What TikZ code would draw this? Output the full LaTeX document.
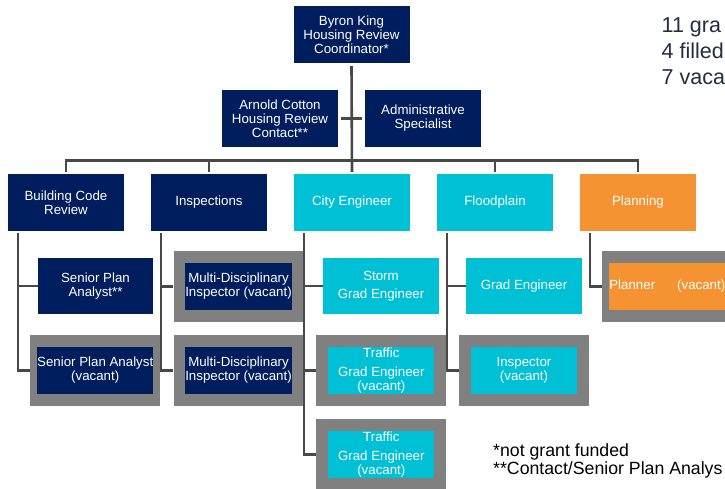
\documentclass[tikz,border=0pt]{standalone}
\usepackage{fontspec}
\setmainfont{Liberation Sans}
\definecolor{navyc}{RGB}{0,30,94}
\definecolor{cyanc}{RGB}{0,192,214}
\definecolor{orangec}{RGB}{245,146,50}
\definecolor{greyc}{RGB}{128,128,128}
\definecolor{linec}{RGB}{72,72,72}
\definecolor{statc}{RGB}{35,45,65}
\begin{document}
\begin{tikzpicture}[x=1pt,y=-1pt,
  box/.style={inner sep=0pt, minimum width=116pt, minimum height=57pt, text=white, align=center, font=\fontsize{13.3}{14}\selectfont},
  navybox/.style={box, fill=navyc},
  cyanbox/.style={box, fill=cyanc},
  orangebox/.style={box, fill=orangec},
  outerbox/.style={fill=greyc, minimum width=130pt, minimum height=71pt, inner sep=0pt},
  innerbox/.style={minimum width=106pt, minimum height=47pt},
  conn/.style={draw=linec, line width=2.6pt},
  note/.style={anchor=base west, inner sep=0pt, text=black, font=\fontsize{17.7}{18}\selectfont}
]
\useasboundingbox (0,0) rectangle (725,489);
\clip (0,0) rectangle (725,489);

% top levels
\node[navybox] (top) at (351.5,34.5) {Byron King\\Housing Review\\Coordinator*};
\node[navybox] (arnold) at (280,118.5) {Arnold Cotton\\Housing Review\\Contact**};
\node[navybox] (admin) at (423,118.5) {Administrative\\Specialist};

% departments
\node[navybox] (bcr) at (66,202.5) {Building Code\\Review};
\node[navybox] (insp) at (209,202.5) {Inspections};
\node[cyanbox] (city) at (352,202.5) {City Engineer};
\node[cyanbox] (flood) at (495,202.5) {Floodplain};
\node[orangebox] (plan) at (638,202.5) {Planning};

% third row
\node[navybox, minimum width=115pt, minimum height=56pt] (spa1) at (95.5,286) {Senior Plan\\Analyst**};
\node[outerbox] (md1) at (238.5,286.5) {};
\node[navybox, innerbox] (md1in) at (md1) {Multi-Disciplinary\\Inspector (vacant)};
\node[cyanbox, minimum height=56pt] (storm) at (381,286) {Storm\\[4.5pt]Grad Engineer};
\node[cyanbox, minimum height=56pt] (grad) at (524,286) {Grad Engineer};
\node[outerbox] (planner) at (667.3,286.5) {};
\node[orangebox, innerbox] (plannerin) at (planner) {Planner\hspace{22pt}(vacant)};

% fourth row
\node[outerbox] (spa2) at (95.2,370.5) {};
\node[navybox, innerbox] (spa2in) at (spa2) {Senior Plan Analyst\\(vacant)};
\node[outerbox] (md2) at (238.5,370.5) {};
\node[navybox, innerbox] (md2in) at (md2) {Multi-Disciplinary\\Inspector (vacant)};
\node[outerbox] (traf1) at (381.3,370.5) {};
\node[cyanbox, innerbox] (traf1in) at (traf1) {Traffic\\[5.5pt]Grad Engineer\\(vacant)};
\node[outerbox] (inspv) at (524,370.5) {};
\node[cyanbox, innerbox] (inspvin) at (inspv) {Inspector\\(vacant)};

% fifth row
\node[outerbox] (traf2) at (381.3,454.5) {};
\node[cyanbox, innerbox] (traf2in) at (traf2) {Traffic\\[5.5pt]Grad Engineer\\(vacant)};

% connectors
\coordinate (bar) at (352,160.7);
\draw[conn] ([yshift=-3pt]top.south) -- ([yshift=2pt]city.north);
\draw[conn, shorten <=3pt, shorten >=3pt] (arnold.east) -- (admin.west);
\draw[conn] ([yshift=2pt]bcr.north) |- (bar);
\draw[conn] ([yshift=2pt]insp.north) |- (bar);
\draw[conn] ([yshift=2pt]flood.north) |- (bar);
\draw[conn] ([yshift=2pt]plan.north) |- (bar);

\draw[conn] ([xshift=10.3pt,yshift=-2pt]bcr.south west) |- (spa1.west);
\draw[conn] ([xshift=10.3pt,yshift=-2pt]bcr.south west) |- (spa2.west);
\draw[conn] ([xshift=10.3pt,yshift=-2pt]insp.south west) |- (md1.west);
\draw[conn] ([xshift=10.3pt,yshift=-2pt]insp.south west) |- (md2.west);
\draw[conn] ([xshift=10pt,yshift=-2pt]city.south west) |- (storm.west);
\draw[conn] ([xshift=10pt,yshift=-2pt]city.south west) |- (traf1.west);
\draw[conn] ([xshift=10pt,yshift=-2pt]city.south west) |- (traf2.west);
\draw[conn] ([xshift=10.3pt,yshift=-2pt]flood.south west) |- (grad.west);
\draw[conn] ([xshift=10.3pt,yshift=-2pt]flood.south west) |- (inspv.west);
\draw[conn] ([xshift=10pt,yshift=-2pt]plan.south west) |- (planner.west);

% texts
\node[anchor=west, inner sep=0pt, align=left, text=statc, font=\fontsize{21.5}{26}\selectfont] (stats) at (661.5,51) {11 gra\\4 filled\\7 vaca};
\node[note] (note1) at (493,456) {*not grant funded};
\node[note] (note2) at (493,474.3) {**Contact/Senior Plan Analys};
\end{tikzpicture}
\end{document}
